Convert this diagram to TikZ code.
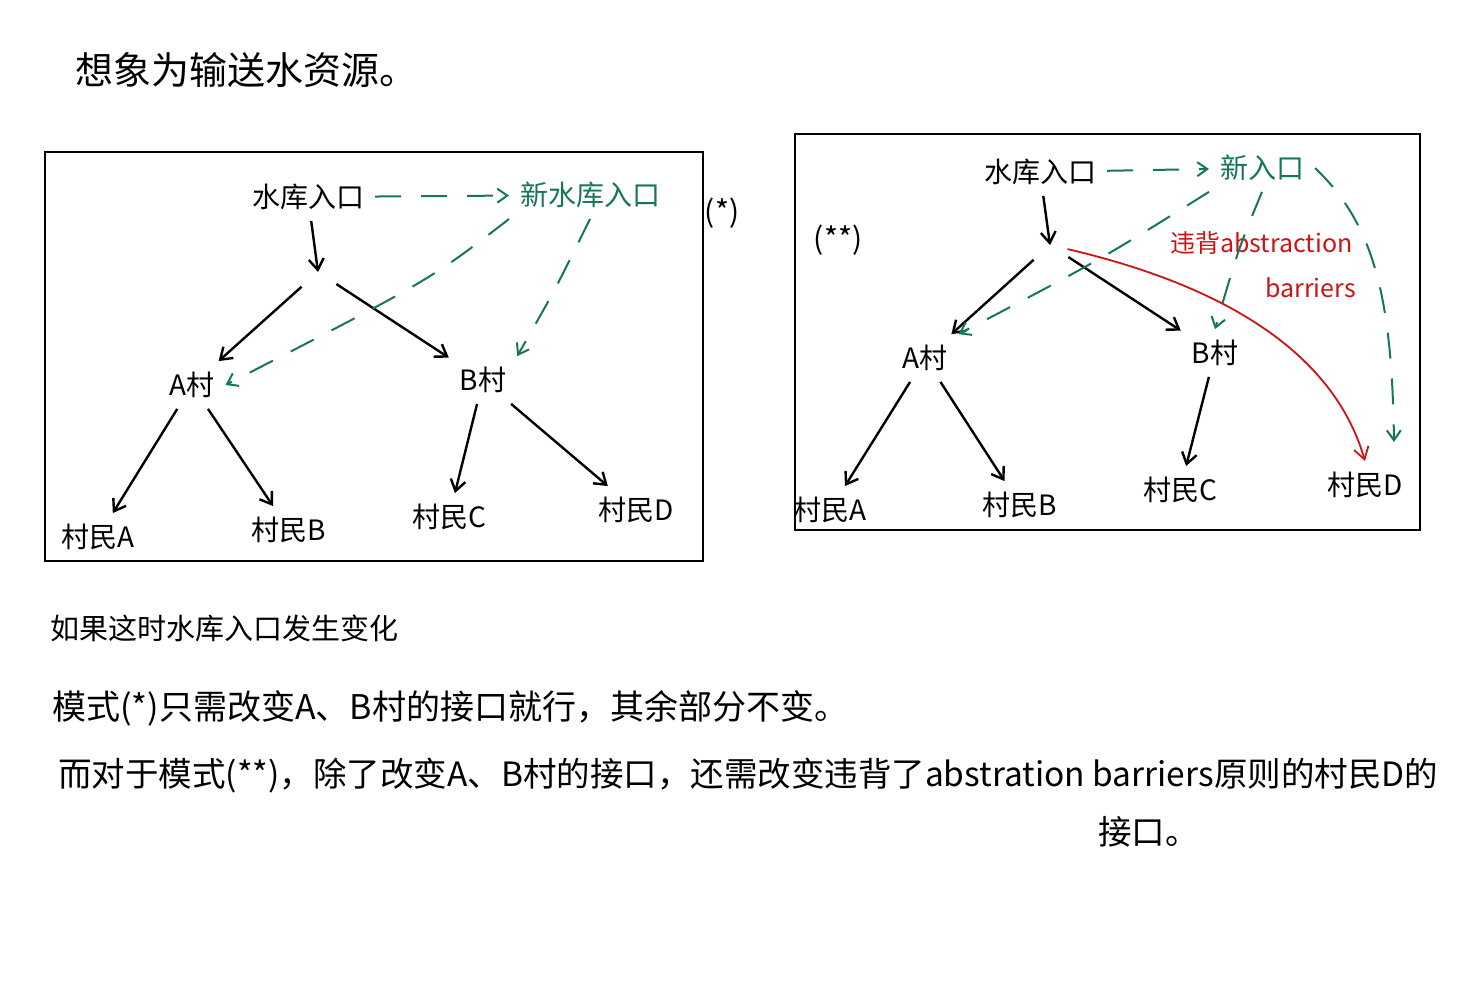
\documentclass[tikz,border=0pt]{standalone}
\usepackage{fontspec}
\setmainfont{Noto Sans CJK SC}
\usepackage{xcolor}
\usetikzlibrary{arrows.meta,positioning}
\definecolor{newgreen}{HTML}{17765A}
\definecolor{badred}{HTML}{CC1414}

\begin{document}
\begin{tikzpicture}[x=1pt,y=-1pt,
    lbl/.style={font=\fontsize{28}{32}\selectfont,inner sep=2pt,outer sep=9pt},
    txt/.style={anchor=west,inner sep=0pt},
    arr/.style={-{Straight Barb[length=11pt,width=15pt]},line width=2.4pt},
    newarr/.style={-{Straight Barb[length=10pt,width=14pt]},newgreen,line width=2pt,dash pattern=on 26pt off 20pt},
    badarr/.style={-{Straight Barb[length=12pt,width=15pt]},badred,line width=1.8pt}]
    \useasboundingbox (0,0) rectangle (1464,999);

    % Title
    \node[txt,font=\fontsize{38}{44}\selectfont] (title) at (75,70) {想象为输送水资源。};

    % Left frame (*)
    \draw[line width=1.8pt] (45,152) rectangle (703,561);
    \node[font=\fontsize{30}{34}\selectfont] (star1) at (722,213) {(*)};
    \node[lbl] (resv1) at (308,197) {水库入口};
    \node[lbl,newgreen] (newin1) at (590,195) {新水库入口};
    \coordinate (j1) at (318,272);
    \node[lbl] (vA1) at (192,385) {A村};
    \node[lbl] (vB1) at (483,380) {B村};
    \node[lbl] (pA1) at (98,537) {村民A};
    \node[lbl] (pB1) at (289,530) {村民B};
    \node[lbl] (pC1) at (449,517) {村民C};
    \node[lbl] (pD1) at (636,510) {村民D};

    % Arrows
    \draw[arr] (resv1) -- (j1);
    \draw[arr,shorten <=22pt] (j1) -- (vA1);
    \draw[arr,shorten <=22pt] (j1) -- (vB1);
    \foreach \s/\t in {vA1/pA1,vA1/pB1,vB1/pC1,vB1/pD1} {
        \draw[arr] (\s) -- (\t);
    }
    \draw[newarr] (resv1) -- (newin1);
    \draw[newarr] (newin1.south west) .. controls (430,280) .. (vA1.east);
    \draw[newarr] (newin1.south) .. controls (555,290) .. (vB1.north east);

    % Right frame (**)
    \draw[line width=1.8pt] (795,134) rectangle (1420,530);
    \node[font=\fontsize{30}{34}\selectfont] (star2) at (838,240) {(**)};
    \node[lbl] (resv2) at (1040,172) {水库入口};
    \node[lbl,newgreen] (newin2) at (1262,168) {新入口};
    \coordinate (j2) at (1050,245);
    \node[lbl] (vA2) at (925,358) {A村};
    \node[lbl] (vB2) at (1215,353) {B村};
    \node[lbl] (pA2) at (830,510) {村民A};
    \node[lbl] (pB2) at (1020,505) {村民B};
    \node[lbl] (pC2) at (1180,490) {村民C};
    \node[lbl] (pD2) at (1365,485) {村民D};
    \node[txt,badred,font=\fontsize{25}{29}\selectfont] (bad1) at (1170,243) {违背abstraction};
    \node[txt,badred,font=\fontsize{25}{29}\selectfont] (bad2) at (1265,288) {barriers};

    % Arrows
    \draw[arr] (resv2) -- (j2);
    \draw[arr,shorten <=22pt] (j2) -- (vA2);
    \draw[arr,shorten <=22pt] (j2) -- (vB2);
    \foreach \s/\t in {vA2/pA2,vA2/pB2,vB2/pC2} {
        \draw[arr] (\s) -- (\t);
    }
    \draw[newarr] (resv2) -- (newin2);
    \draw[newarr] (newin2.south west) .. controls (1100,260) .. (vA2.north east);
    \draw[newarr] (newin2.south) .. controls (1238,250) .. (vB2.north);
    \coordinate (dIn) at (1394,442);
    \draw[newarr] (newin2.east) .. controls (1375,225) and (1392,300) .. (dIn);
    \draw[badarr,shorten <=18pt] (j2) .. controls (1200,280) and (1330,340) .. (pD2.north);

    % Notes
    \begin{scope}[font=\fontsize{29}{34}\selectfont]
        \node[txt] (note1) at (50,628) {如果这时水库入口发生变化};
        \node[txt,font=\fontsize{34}{40}\selectfont] (note2) at (52,708) {模式(*)只需改变A、B村的接口就行，其余部分不变。};
        \node[txt,font=\fontsize{33.5}{40}\selectfont] (note3) at (58,776) {而对于模式(**)，除了改变A、B村的接口，还需改变违背了abstration barriers原则的村民D的};
        \node[txt,font=\fontsize{33.5}{40}\selectfont] (note4) at (1098,832) {接口。};
    \end{scope}
\end{tikzpicture}
\end{document}
